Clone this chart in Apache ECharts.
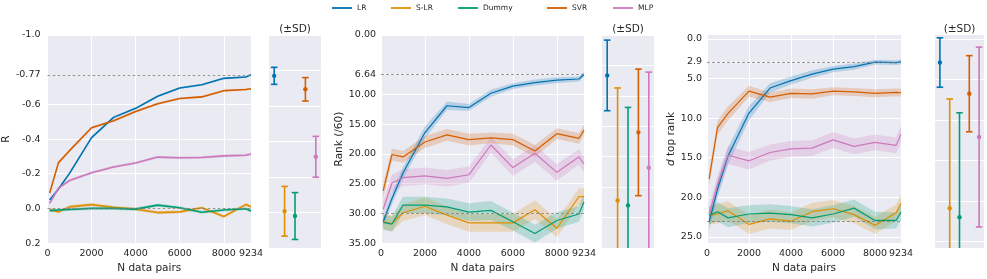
<!DOCTYPE html>
<html><head><meta charset="utf-8">
<script src="https://cdn.jsdelivr.net/npm/echarts@6/dist/echarts.min.js"></script>
<style>html,body{margin:0;padding:0;background:#fff}#c{width:987px;height:279px}</style>
</head><body><div id="c"></div>
<script>
// ---------------- DATA ----------------
const models = ['LR', 'S-LR', 'Dummy', 'SVR', 'MLP'];
const nPairs = [100, 500, 1000, 2000, 3000, 4000, 5000, 6000, 7000, 8000, 9000, 9234];
const xTicks = [0, 2000, 4000, 6000, 8000, 9234];

// Panel 1: R
const rTicks = [-1.0, -0.77, -0.6, -0.4, -0.2, 0.0, 0.2];
const rTickLabels = ['-1.0', '-0.77', '-0.6', '-0.4', '-0.2', '0.0', '0.2'];
const rSideTicks = [-1.0, -0.8, -0.6, -0.4, -0.2, 0.0, 0.2];
const rRefs = [-0.77, 0.0];
const rLR    = [-0.048, -0.112, -0.202, -0.408, -0.525, -0.577, -0.647, -0.694, -0.713, -0.750, -0.758, -0.771];
const rSLR   = [0.006, 0.020, -0.009, -0.022, -0.006, 0.004, 0.024, 0.020, -0.004, 0.047, -0.022, -0.009];
const rDummy = [0.013, 0.009, 0.006, 0.000, 0.000, 0.004, -0.019, -0.004, 0.022, 0.009, 0.002, 0.015];
const rSVR   = [-0.089, -0.264, -0.333, -0.465, -0.506, -0.559, -0.604, -0.634, -0.643, -0.679, -0.686, -0.690];
const rMLP   = [-0.029, -0.117, -0.161, -0.206, -0.239, -0.262, -0.296, -0.292, -0.294, -0.303, -0.307, -0.314];
const rLRci    = [0.008, 0.008, 0.008, 0.007, 0.007, 0.006, 0.006, 0.006, 0.005, 0.005, 0.005, 0.005];
const rSLRci   = [0.010, 0.010, 0.010, 0.010, 0.009, 0.009, 0.010, 0.010, 0.009, 0.010, 0.010, 0.010];
const rDummyci = [0.009, 0.009, 0.009, 0.009, 0.009, 0.009, 0.010, 0.009, 0.009, 0.009, 0.009, 0.009];
const rSVRci   = [0.010, 0.009, 0.008, 0.008, 0.007, 0.007, 0.007, 0.006, 0.006, 0.006, 0.006, 0.006];
const rMLPci   = [0.008, 0.008, 0.008, 0.008, 0.008, 0.008, 0.008, 0.008, 0.008, 0.008, 0.008, 0.008];
const rErrMean = [-0.770, -0.007, 0.020, -0.694, -0.314];
const rErrSD   = [0.048, 0.140, 0.132, 0.066, 0.115];

// Panel 2: Rank (/60)
const rankTicks = [0, 6.64, 10, 15, 20, 25, 30, 35];
const rankTickLabels = ['0.00', '6.64', '10.00', '15.00', '20.00', '25.00', '30.00', '35.00'];
const rankSideTicks = [0, 5, 10, 15, 20, 25, 30, 35];
const rankRefs = [6.64, 30.0];
const rankLR    = [31.4, 27.5, 23.2, 16.4, 11.9, 12.2, 9.8, 8.6, 8.0, 7.6, 7.4, 6.64];
const rankSLR   = [31.4, 31.7, 29.9, 28.8, 30.3, 31.6, 31.6, 31.6, 29.4, 32.5, 27.2, 27.2];
const rankDummy = [31.5, 31.8, 28.6, 28.6, 28.9, 29.8, 29.5, 31.4, 33.4, 31.2, 30.1, 28.1];
const rankSVR   = [26.2, 20.1, 20.5, 18.0, 16.8, 17.6, 17.3, 17.6, 19.5, 16.6, 17.4, 16.0];
const rankMLP   = [29.3, 24.9, 24.0, 23.7, 24.1, 23.5, 18.5, 22.3, 19.9, 23.1, 20.5, 21.7];
const rankLRci    = [0.8, 1.0, 1.0, 1.0, 0.7, 0.6, 0.6, 0.5, 0.5, 0.5, 0.4, 0.4];
const rankSLRci   = [1.3, 1.3, 1.4, 1.5, 1.5, 1.5, 1.5, 1.5, 1.6, 1.5, 1.4, 1.4];
const rankDummyci = [1.2, 1.3, 1.4, 1.4, 1.4, 1.5, 1.6, 1.5, 1.5, 1.4, 1.3, 1.3];
const rankSVRci   = [1.3, 1.0, 1.0, 1.0, 1.0, 1.0, 0.9, 1.0, 1.0, 0.9, 0.9, 0.9];
const rankMLPci   = [1.4, 1.4, 1.4, 1.4, 1.4, 1.4, 1.3, 1.4, 1.4, 1.4, 1.3, 1.3];
const rankErrMean = [6.64, 27.2, 28.0, 16.0, 21.8];
const rankErrSD   = [5.8, 18.5, 16.1, 10.4, 15.7];

// Panel 3: d top rank
const topTicks = [0, 2.9, 5, 10, 15, 20, 25];
const topTickLabels = ['0.0', '2.9', '5.0', '10.0', '15.0', '20.0', '25.0'];
const topSideTicks = [0, 5, 10, 15, 20, 25];
const topRefs = [2.9, 23.05];
const topLR    = [23.15, 19.0, 14.8, 9.37, 6.2, 5.26, 4.44, 3.82, 3.5, 2.92, 3.0, 2.9];
const topSLR   = [22.33, 22.12, 21.7, 23.44, 22.74, 23.03, 21.83, 21.46, 22.2, 23.56, 21.96, 20.76];
const topDummy = [22.33, 21.83, 22.61, 22.12, 22.0, 22.2, 22.61, 22.12, 21.38, 22.94, 22.94, 21.88];
const topSVR   = [17.7, 11.2, 9.4, 6.6, 7.36, 6.87, 6.95, 6.6, 6.7, 6.87, 6.75, 6.8];
const topMLP   = [22.1, 18.4, 14.7, 15.4, 14.35, 13.9, 13.8, 12.75, 13.57, 13.07, 13.45, 12.05];
const topLRci    = [1.0, 1.1, 1.1, 0.9, 0.6, 0.5, 0.5, 0.4, 0.4, 0.3, 0.3, 0.3];
const topSLRci   = [1.1, 1.2, 1.2, 1.2, 1.2, 1.1, 1.1, 1.1, 1.1, 1.1, 1.0, 1.1];
const topDummyci = [1.1, 1.2, 1.2, 1.1, 1.1, 1.1, 1.1, 1.1, 1.1, 1.1, 1.0, 1.0];
const topSVRci   = [1.0, 0.9, 0.9, 0.7, 0.6, 0.6, 0.6, 0.5, 0.5, 0.5, 0.5, 0.5];
const topMLPci   = [1.1, 1.2, 1.1, 1.1, 1.0, 1.0, 1.0, 1.0, 1.0, 1.0, 1.0, 1.1];
const topErrMean = [2.9, 20.9, 22.0, 6.75, 12.1];
const topErrSD   = [3.05, 13.5, 12.9, 4.7, 11.1];

// ---------------- STYLE / LAYOUT ----------------
const colors = ['#0173b2', '#de8f05', '#029e73', '#d55e00', '#cc78bc'];
const textColor = '#262626';
const bg = '#eaeaf2';
const FONT = 'DejaVu Sans';

function rgba(hex, a) {
  const n = parseInt(hex.slice(1), 16);
  return 'rgba(' + ((n >> 16) & 255) + ',' + ((n >> 8) & 255) + ',' + (n & 255) + ',' + a + ')';
}

const panels = [
  { main: { left: 47, width: 204 }, side: { left: 269, width: 52 }, ymin: -1.0, ymax: 0.2,
    ticks: rTicks, labels: rTickLabels, sideTicks: rSideTicks, refs: rRefs,
    means: [rLR, rSLR, rDummy, rSVR, rMLP], ci: [rLRci, rSLRci, rDummyci, rSVRci, rMLPci],
    errMean: rErrMean, errSD: rErrSD, name: 'R', nameGap: 31, labelMargin: 7, lw: 1.6 },
  { main: { left: 381, width: 203 }, side: { left: 602, width: 52 }, ymin: 0, ymax: 35,
    ticks: rankTicks, labels: rankTickLabels, sideTicks: rankSideTicks, refs: rankRefs,
    means: [rankLR, rankSLR, rankDummy, rankSVR, rankMLP], ci: [rankLRci, rankSLRci, rankDummyci, rankSVRci, rankMLPci],
    errMean: rankErrMean, errSD: rankErrSD, name: 'Rank (/60)', nameGap: 35, labelMargin: 5, lw: 1.2 },
  { main: { left: 707, width: 194 }, side: { left: 935, width: 49 }, ymin: -0.5, ymax: 25.8,
    ticks: topTicks, labels: topTickLabels, sideTicks: topSideTicks, refs: topRefs,
    means: [topLR, topSLR, topDummy, topSVR, topMLP], ci: [topLRci, topSLRci, topDummyci, topSVRci, topMLPci],
    errMean: topErrMean, errSD: topErrSD, name: '{i|d} top rank', nameGap: 28, labelMargin: 5, lw: 1.2 }
];

const grids = [], xAxes = [], yAxes = [], series = [];
const TOP = 35, HEIGHT = 213;

panels.forEach((p, pi) => {
  const mi = pi * 2, si = pi * 2 + 1;
  grids.push({ left: p.main.left, width: p.main.width, top: TOP, height: HEIGHT, show: true, backgroundColor: bg, borderWidth: 0 });
  grids.push({ left: p.side.left, width: p.side.width, top: TOP, height: HEIGHT, show: true, backgroundColor: bg, borderWidth: 0 });

  xAxes.push({
    type: 'value', gridIndex: mi, min: 0, max: 9234,
    axisLine: { show: false }, axisTick: { show: false, customValues: xTicks },
    axisLabel: { customValues: xTicks, fontSize: 9.5, color: textColor, margin: 5, fontFamily: FONT, formatter: v => String(v) },
    splitLine: { show: true, lineStyle: { color: '#ffffff', width: 1 } },
    name: 'N data pairs', nameLocation: 'middle', nameGap: 15,
    nameTextStyle: { fontSize: 10.5, color: textColor, fontFamily: FONT }
  });
  xAxes.push({
    type: 'category', gridIndex: si, data: models, boundaryGap: true,
    axisLine: { show: false }, axisTick: { show: false }, axisLabel: { show: false }, splitLine: { show: false }
  });

  const tk = p.ticks, lb = p.labels;
  yAxes.push({
    type: 'value', gridIndex: mi, min: p.ymin, max: p.ymax, inverse: true,
    axisLine: { show: false }, axisTick: { show: false, customValues: tk },
    axisLabel: { customValues: tk, fontSize: 9.5, color: textColor, margin: p.labelMargin, fontFamily: FONT,
      formatter: v => { const k = tk.findIndex(t => Math.abs(t - v) < 1e-9); return k >= 0 ? lb[k] : ''; } },
    splitLine: { show: true, lineStyle: { color: '#ffffff', width: 1 } },
    name: p.name, nameLocation: 'middle', nameGap: p.nameGap, nameRotate: 90,
    nameTextStyle: { fontSize: 10.5, color: textColor, fontFamily: FONT,
      rich: { i: { fontStyle: 'italic', fontSize: 10.5, color: textColor, fontFamily: FONT } } }
  });
  yAxes.push({
    type: 'value', gridIndex: si, min: p.ymin, max: p.ymax, inverse: true,
    axisLine: { show: false }, axisTick: { show: false, customValues: p.sideTicks },
    axisLabel: { show: false },
    splitLine: { show: true, lineStyle: { color: '#ffffff', width: 1 } }
  });

  // reference dashed lines
  series.push({
    type: 'line', xAxisIndex: mi, yAxisIndex: mi, data: [], silent: true, z: 1, name: 'ref' + pi,
    markLine: { silent: true, symbol: ['none', 'none'], label: { show: false }, animation: false,
      lineStyle: { color: '#7f7f7f', type: [3, 2], width: 0.8 },
      data: p.refs.map(v => ({ yAxis: v })) }
  });

  models.forEach((m, k) => {
    const means = p.means[k], ci = p.ci[k], col = colors[k];
    const pts = nPairs.map((x, i) => [x, means[i] - ci[i], means[i] + ci[i]]);
    series.push({
      type: 'custom', name: 'band' + pi + k, xAxisIndex: mi, yAxisIndex: mi, data: pts,
      encode: { x: 0, y: [1, 2] }, clip: true, silent: true, z: 2,
      renderItem: (params, api) => {
        if (params.dataIndex !== 0) return null;
        const up = pts.map(d => api.coord([d[0], d[2]]));
        const lo = pts.map(d => api.coord([d[0], d[1]])).reverse();
        return { type: 'polygon', shape: { points: up.concat(lo) }, style: { fill: rgba(col, 0.22) } };
      }
    });
    series.push({
      type: 'line', name: m, xAxisIndex: mi, yAxisIndex: mi, z: 3,
      data: nPairs.map((x, i) => [x, means[i]]),
      symbol: 'none', showSymbol: false, silent: true,
      itemStyle: { color: col }, lineStyle: { color: col, width: p.lw }
    });
  });

  // error bars (mean +/- SD)
  const em = p.errMean, es = p.errSD;
  series.push({
    type: 'custom', name: 'err' + pi, xAxisIndex: si, yAxisIndex: si, clip: true, silent: true, z: 3,
    data: models.map((m, i) => [i, em[i], es[i]]), encode: { x: 0, y: 1 },
    renderItem: (params, api) => {
      const i = params.dataIndex, mv = api.value(1), s = api.value(2);
      const c = api.coord([i, mv]), t = api.coord([i, mv - s]), b = api.coord([i, mv + s]);
      const col = colors[i], cw = 3.3, lw = 1.6;
      return { type: 'group', children: [
        { type: 'line', shape: { x1: c[0], y1: t[1], x2: c[0], y2: b[1] }, style: { stroke: col, lineWidth: lw } },
        { type: 'line', shape: { x1: c[0] - cw, y1: t[1], x2: c[0] + cw, y2: t[1] }, style: { stroke: col, lineWidth: lw } },
        { type: 'line', shape: { x1: c[0] - cw, y1: b[1], x2: c[0] + cw, y2: b[1] }, style: { stroke: col, lineWidth: lw } },
        { type: 'circle', shape: { cx: c[0], cy: c[1], r: 2.2 }, style: { fill: col } }
      ] };
    }
  });
});

const legendLefts = [332, 391, 458, 547, 613];
const legends = models.map((m, i) => ({
  data: [m], left: legendLefts[i], top: 4, padding: 0, itemWidth: 20, itemHeight: 1.8, itemGap: 0,
  icon: 'rect', itemStyle: { color: colors[i] },
  selectedMode: false, textStyle: { fontSize: 7.5, color: textColor, fontFamily: FONT }
}));

const sdCenters = [295, 628, 959.5];
const graphics = sdCenters.map(x => ({
  type: 'text', x: x, y: 29, silent: true,
  style: { text: '(±SD)', textAlign: 'center', textVerticalAlign: 'middle', fontSize: 10.5, fill: textColor, fontFamily: FONT }
}));

const chart = echarts.init(document.getElementById('c'), null, { renderer: 'canvas' });
chart.setOption({
  animation: false,
  textStyle: { fontFamily: FONT },
  grid: grids, xAxis: xAxes, yAxis: yAxes, series: series,
  legend: legends, graphic: graphics
});
</script></body></html>
